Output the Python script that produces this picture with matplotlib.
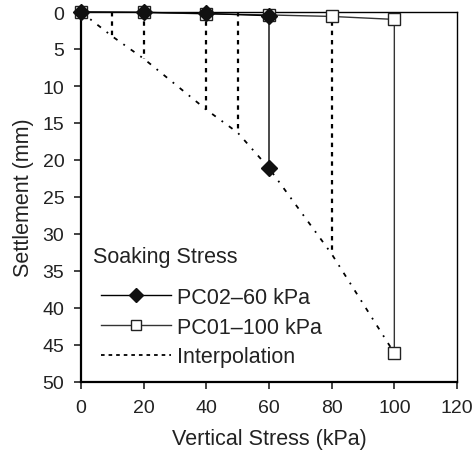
import matplotlib
matplotlib.use("Agg")
import matplotlib.pyplot as plt
from matplotlib.lines import Line2D

plt.rcParams['font.family'] = ['Liberation Sans', 'DejaVu Sans']

# PC02 - soaked at 60 kPa
pc02_x = [0, 20, 40, 60, 60]
pc02_y = [0, 0.05, 0.2, 0.5, 21.1]
# PC01 - soaked at 100 kPa
pc01_x = [0, 20, 40, 60, 80, 100, 100]
pc01_y = [0, 0.05, 0.25, 0.4, 0.6, 1.0, 46.1]
# Interpolation curve
interp_x = [0, 10, 20, 40, 50, 60, 80, 100]
interp_y = [0, 3.3, 6.3, 13.2, 16.3, 21.1, 32.7, 46.1]
# Vertical interpolation lines (stress, settlement at curve)
vert_x = [10, 20, 40, 50, 80]
vert_y = [3.3, 6.3, 13.2, 16.3, 32.7]

x_ticks = [0, 20, 40, 60, 80, 100, 120]
y_ticks = [0, 5, 10, 15, 20, 25, 30, 35, 40, 45, 50]

W, H = 474, 456
fig = plt.figure(figsize=(W / 100, H / 100), dpi=100)
ax = fig.add_axes([81 / W, 1 - 383 / H, 376 / W, 370 / H])

for vx, vy in zip(vert_x, vert_y):
    ax.plot([vx, vx], [0, vy], color='black', lw=1.6, linestyle=(0, (2, 2.2)))

ax.plot(interp_x, interp_y, color='black', lw=1.3, linestyle=(0, (2.5, 4, 1, 4)))

ax.plot(pc01_x, pc01_y, color='#333333', lw=1.0, marker='s', ms=8,
        mfc='white', mec='#222222', mew=1.0, clip_on=False, zorder=4)
ax.plot(pc02_x, pc02_y, color='black', lw=1.0, marker='D', ms=8,
        mfc='#111111', mec='#111111', clip_on=False, zorder=5)

ax.set_xlim(0, 120)
ax.set_ylim(50, 0)
ax.set_xticks(x_ticks)
ax.set_yticks(y_ticks)
ax.tick_params(labelsize=14, length=5, width=1.2, colors='#222222')
ax.tick_params(axis='x', pad=7)
ax.tick_params(axis='y', pad=7)
ax.set_xlabel('Vertical Stress (kPa)', fontsize=15.5, color='#222222', labelpad=9)
ax.set_ylabel('Settlement (mm)', fontsize=15.5, color='#222222', labelpad=6)

for s in ['left', 'bottom']:
    ax.spines[s].set_linewidth(1.6)
for s in ['top', 'right']:
    ax.spines[s].set_linewidth(1.0)

fs = 15.5
ax.text(93 / W, 1 - 258 / H, 'Soaking Stress', transform=fig.transFigure,
        fontsize=fs, color='#222222', ha='left', va='center')

handles = [
    Line2D([], [], color='black', lw=1.0, marker='D', ms=7, mfc='#111111', mec='#111111'),
    Line2D([], [], color='#333333', lw=1.0, marker='s', ms=6.5, mfc='white', mec='#222222'),
    Line2D([], [], color='black', lw=1.3, linestyle=(0, (2, 2.2))),
]
labels = ['PC02\u201360 kPa', 'PC01\u2013100 kPa', 'Interpolation']
leg = ax.legend(handles, labels, loc='upper left',
                bbox_to_anchor=(101 / W, 1 - 288 / H),
                bbox_transform=fig.transFigure,
                frameon=False, fontsize=fs, handlelength=3.25,
                handletextpad=0.3, labelspacing=0.4, borderpad=0,
                borderaxespad=0)
for t in leg.get_texts():
    t.set_color('#222222')

fig.savefig('out.png', dpi=100)
